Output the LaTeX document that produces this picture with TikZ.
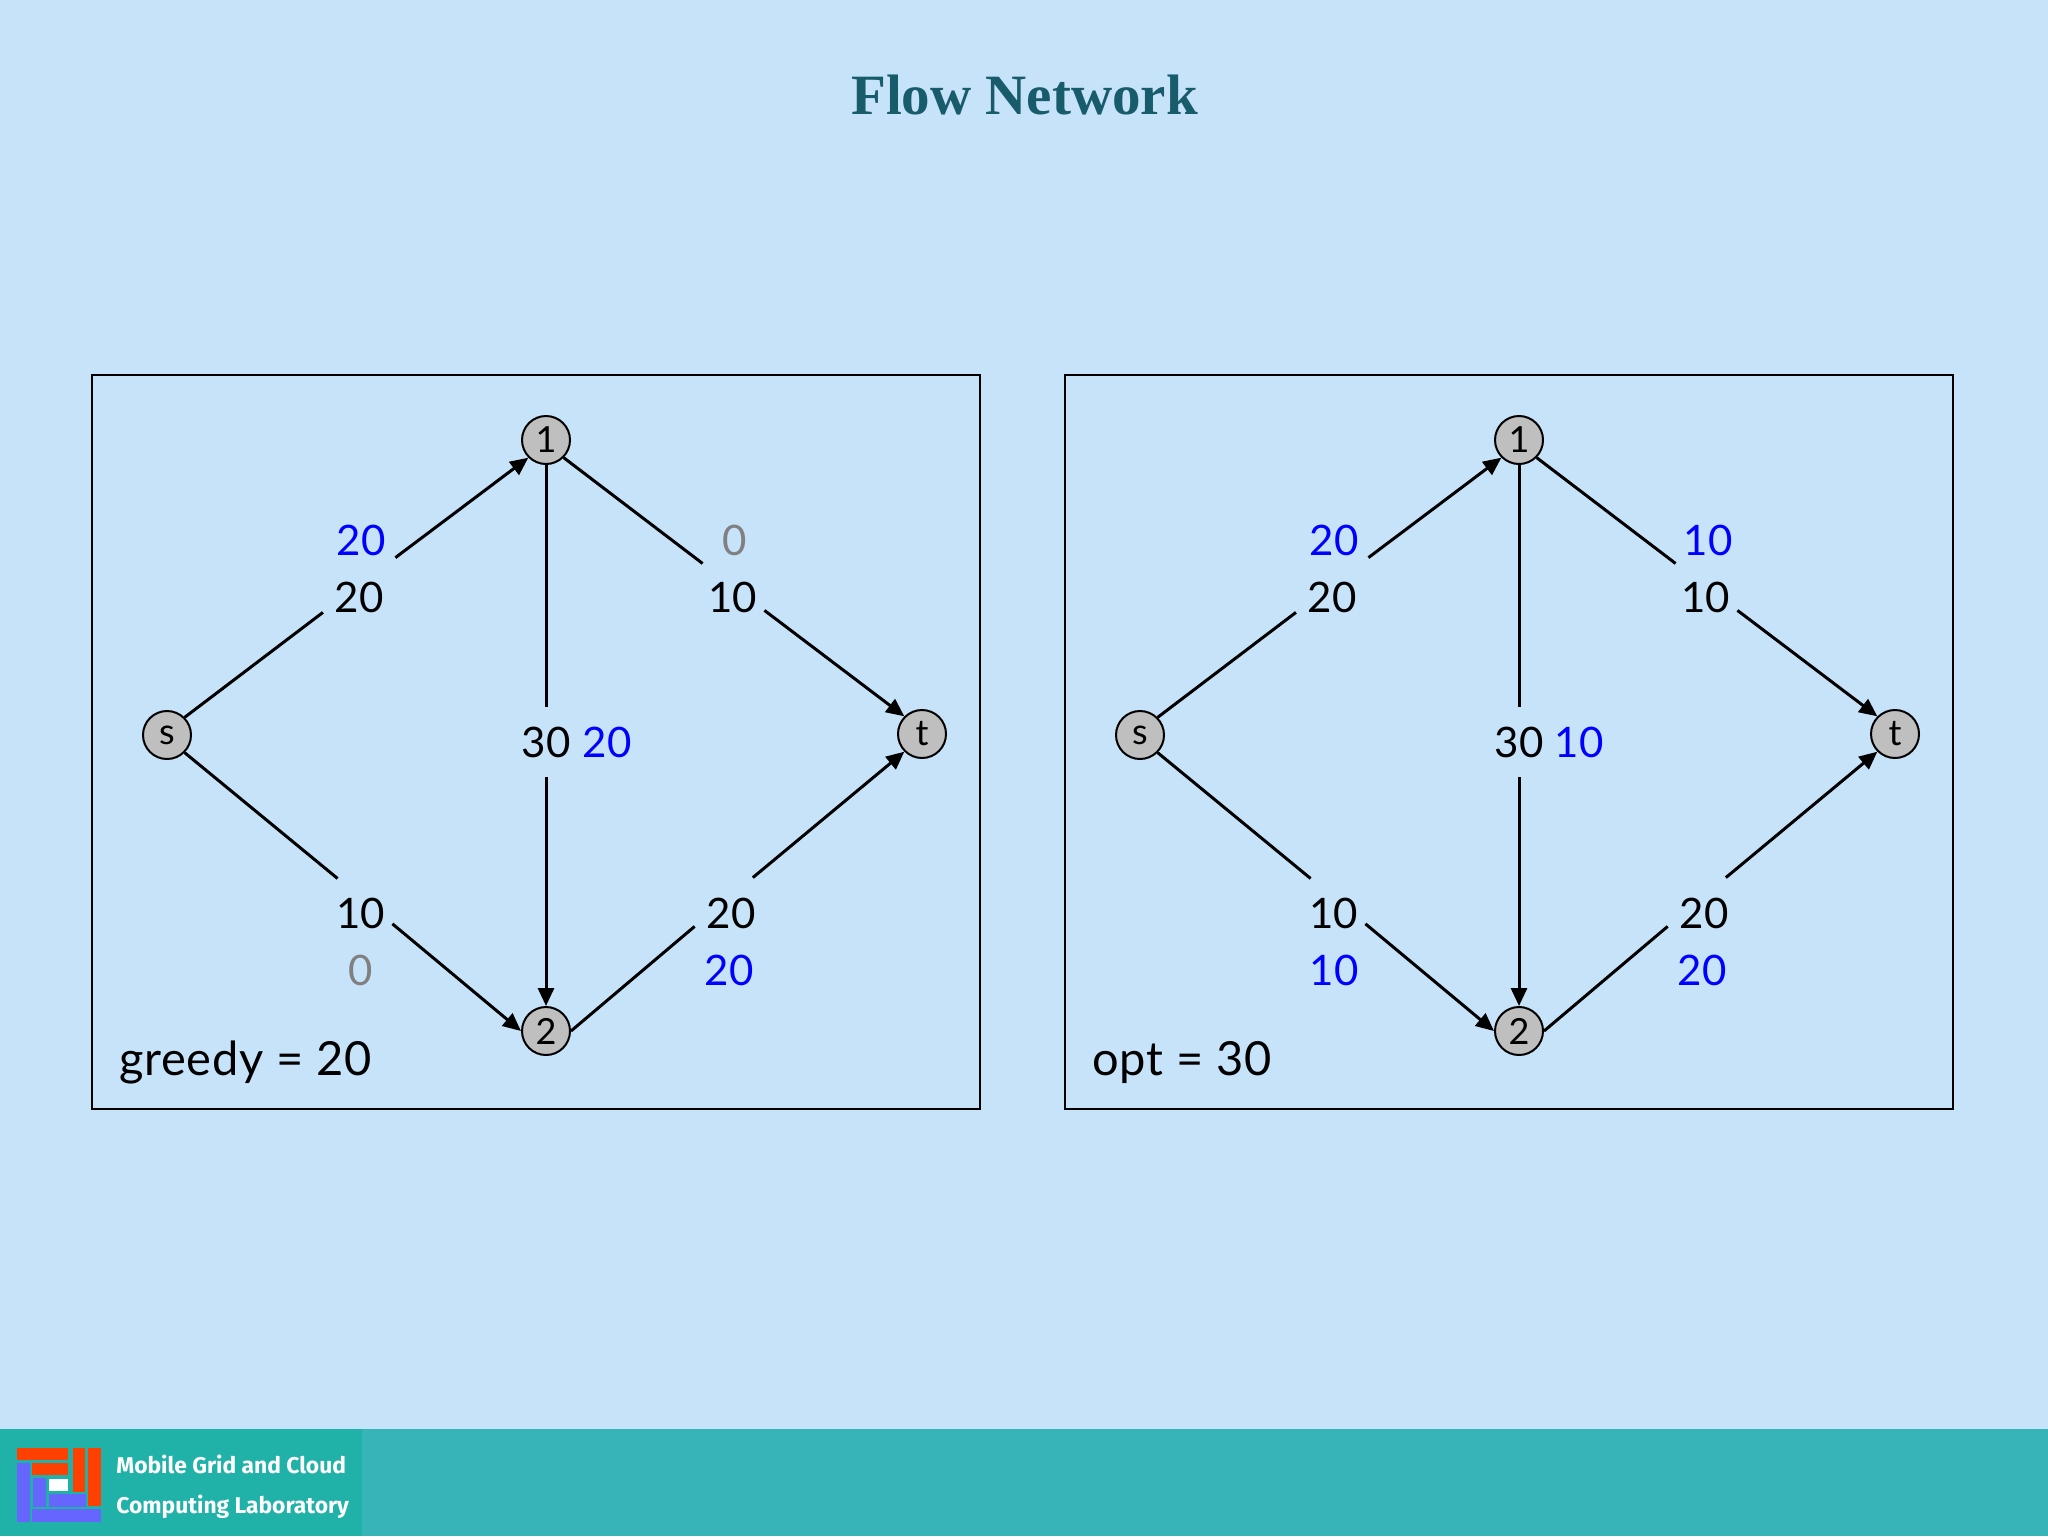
\documentclass[tikz,border=0pt]{standalone}
\usepackage{fontspec}
\usetikzlibrary{arrows.meta}
\setmainfont{Lato}
\newfontfamily\titlefont{Liberation Serif}
\newfontfamily\labfont{Fira Sans}
\definecolor{bgblue}{RGB}{199,227,249}
\definecolor{band}{RGB}{54,180,184}
\definecolor{bandl}{RGB}{32,178,168}
\definecolor{titlec}{RGB}{24,92,108}
\definecolor{flowblue}{RGB}{0,0,255}
\definecolor{flowgray}{RGB}{128,128,128}
\definecolor{logored}{RGB}{255,64,0}
\definecolor{logoblue}{RGB}{102,102,255}
\tikzset{
  vertex/.style={circle,draw=black,line width=1pt,fill=black!25,minimum size=24pt,inner sep=0pt,font=\fontsize{18}{20}\selectfont},
  edgeline/.style={line width=1.5pt,black},
  edgearrow/.style={edgeline,-{Triangle[length=9pt,width=8pt]}},
  gapbox/.style n args={3}{inner sep=0pt,minimum width=#1,minimum height=#2,text height=#2,text depth=0pt,align=center,font=\fontsize{21}{24}\selectfont,text=black,#3},
  flowlab/.style={inner sep=0pt,font=\fontsize{21}{24}\selectfont},
  frame/.style={draw=black,line width=1pt},
  result/.style={inner sep=0pt,anchor=base west,font=\addfontfeature{LetterSpace=1.5}\fontsize{23.5}{26}\selectfont},
  logopart/.style={inner sep=0pt},
}
% #1 prefix, #2 x offset, #3-#6 flow labels, #7 result
\newcommand{\netpanel}[7]{
  \begin{scope}[shift={(#2,0)}]
    \node[frame,minimum width=444pt,minimum height=367pt,inner sep=0pt] (#1frame) at (536,742) {};
    \node[vertex] (#1s) at (167,735) {\raisebox{-1.5pt}{s}};
    \node[vertex] (#1a) at (546,440) {1};
    \node[vertex] (#1b) at (546,1031) {2};
    \node[vertex] (#1t) at (922,734) {t};
    \node[gapbox={36pt}{27pt}{}] (#1sa) at (359,585) {20};
    \node[gapbox={30.5pt}{24pt}{}] (#1at) at (733.5,587) {\raisebox{-0.5pt}{\hspace*{-1pt}10}};
    \node[gapbox={27pt}{23pt}{}] (#1sb) at (365,901) {\raisebox{-2pt}{\hspace*{-4.5pt}10}};
    \node[gapbox={28.5pt}{24pt}{}] (#1bt) at (723.5,902) {\raisebox{-1pt}{\hspace*{7.5pt}20}};
    \node[gapbox={36pt}{35pt}{text height=25pt,text depth=10pt}] (#1ab) at (546,742) {30};
    \draw[edgeline] (#1s.45) -- (#1sa);
    \draw[edgearrow] (#1sa) -- (#1a.-135);
    \draw[edgeline] (#1a.-45) -- (#1at);
    \draw[edgearrow] (#1at) -- (#1t.135);
    \draw[edgeline] (#1s.-45) -- (#1sb);
    \draw[edgearrow] (#1sb) -- (#1b.west);
    \draw[edgeline] (#1b.east) -- (#1bt);
    \draw[edgearrow] (#1bt) -- (#1t.-135);
    \draw[edgeline] (#1a.south) -- (#1ab);
    \draw[edgearrow] (#1ab) -- (#1b.north);
    \node[flowlab,flowblue] (#1fsa) at (361,540) {20};
    #3
    #4
    #5
    #6
    \node[result] (#1res) at (119,1075) {#7};
  \end{scope}
}
\begin{document}
\begin{tikzpicture}[x=0.5pt,y=-0.5pt]
  \useasboundingbox (0,0) rectangle (2048,1536);
  \fill[bgblue] (0,0) rectangle (2048,1536);
  \node[font=\titlefont\bfseries\fontsize{28.5}{32}\selectfont,text=titlec,inner sep=0pt] (title) at (1024.5,95) {Flow Network};

  \netpanel{L}{0}
    {\node[flowlab,flowgray] (Lfat) at (735,540) {0};}
    {\node[flowlab,flowblue] (Lfab) at (607,742) {20};}
    {\node[flowlab,flowgray] (Lfsb) at (361,970) {0};}
    {\node[flowlab,flowblue] (Lfbt) at (729,970) {20};}
    {greedy = 20}
  \netpanel{R}{973}
    {\node[flowlab,flowblue] (Rfat) at (735,540) {10};}
    {\node[flowlab,flowblue] (Rfab) at (606,742) {10};}
    {\node[flowlab,flowblue] (Rfsb) at (361,970) {10};}
    {\node[flowlab,flowblue] (Rfbt) at (729,970) {20};}
    {opt = 30}

  % footer band
  \fill[band] (0,1429) rectangle (2048,1536);
  \fill[bandl] (0,1429) rectangle (362,1536);
  % logo
  \fill[logored] (16.7,1447.7) rectangle (68.3,1460);
  \fill[logored] (32.3,1462.7) rectangle (68.3,1475);
  \fill[logored] (72.7,1447.7) rectangle (85,1491.7);
  \fill[logored] (88.3,1447.7) rectangle (101,1506);
  \fill[logoblue] (16.7,1462.7) rectangle (30,1521.7);
  \fill[logoblue] (32.3,1509.3) rectangle (101,1521.7);
  \fill[logoblue] (33.3,1478.3) rectangle (46,1506.7);
  \fill[logoblue] (49.3,1494.3) rectangle (86,1506.7);
  \fill[white] (49.3,1479.3) rectangle (68.3,1491);
  \node[logopart,anchor=west,text=white,font=\labfont\bfseries\fontsize{11.4}{14}\selectfont] (lab1) at (116,1464) {Mobile Grid and Cloud};
  \node[logopart,anchor=west,text=white,font=\labfont\bfseries\fontsize{11.4}{14}\selectfont] (lab2) at (116,1507) {Computing Laboratory};
\end{tikzpicture}
\end{document}
